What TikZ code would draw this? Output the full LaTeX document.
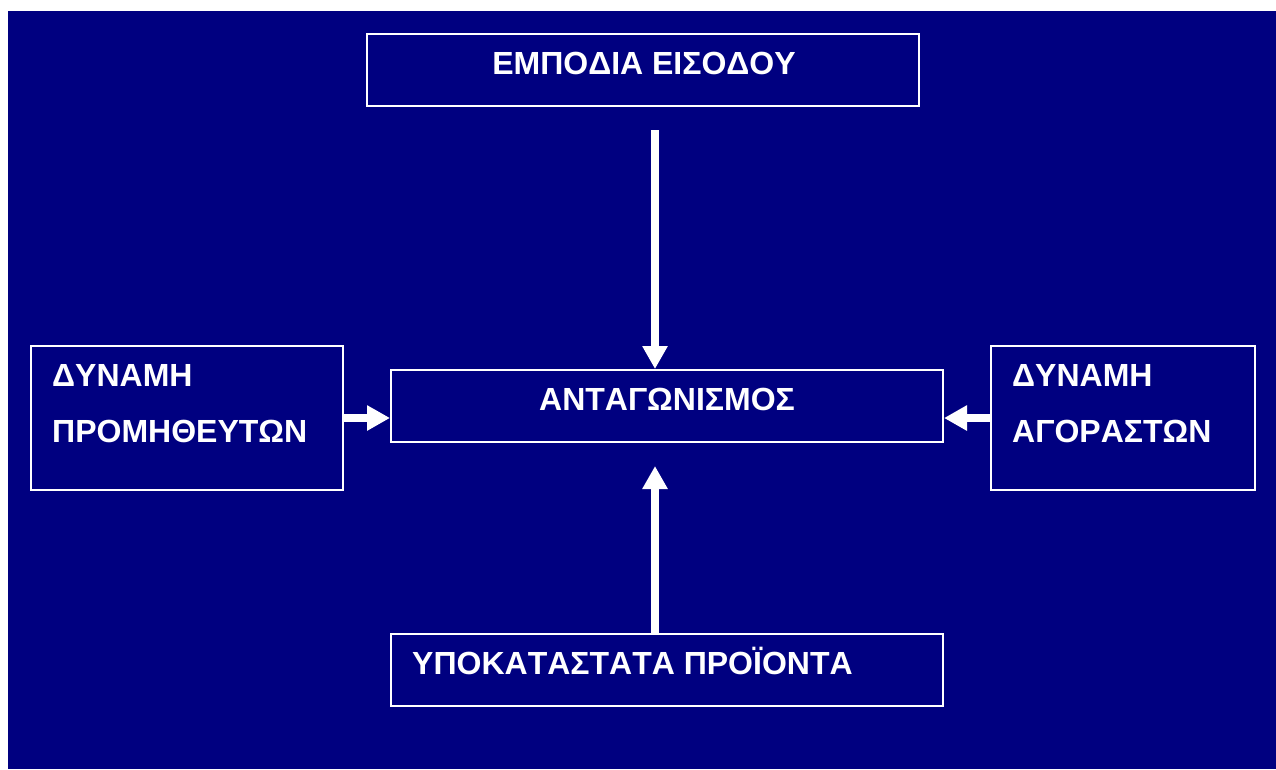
\documentclass[tikz,border=0pt]{standalone}
\usepackage{fontspec}
\setmainfont[Kerning=Off]{Liberation Sans}
\usetikzlibrary{arrows.meta}
\definecolor{navy}{RGB}{0,0,128}
\begin{document}
\begin{tikzpicture}[x=1pt,y=-1pt,
  box/.style={draw=white, line width=2pt, inner sep=0pt, minimum width=#1, minimum height=72pt},
  tall/.style={draw=white, line width=2pt, inner sep=0pt, minimum height=144pt},
  lbl/.style={text=white, inner sep=0pt, font=\bfseries\fontsize{32}{56}\selectfont},
  arr/.style={white, line width=8pt, -{Triangle[width=24pt,length=23pt]}}]
  % page and background
  \useasboundingbox (0,0) rectangle (1276,769);
  \fill[white] (0,0) rectangle (1276,769);
  \fill[navy] (8,11) rectangle (1276,769);

  % boxes
  \node[box=552pt] (top) at (643,70) {};
  \node[box=552pt] (mid) at (667,406) {};
  \node[box=552pt] (bot) at (667,670) {};
  \node[tall, minimum width=312pt] (lft) at (187,418) {};
  \node[tall, minimum width=264pt] (rgt) at (1123,418) {};

  % labels
  \node[lbl, anchor=base] (toptxt) at (644,74) {ΕΜΠΟΔΙΑ ΕΙΣΟΔΟΥ};
  \node[lbl, anchor=base] (midtxt) at (667,410) {ΑΝΤΑΓΩΝΙΣΜΟΣ};
  \node[lbl, anchor=base west] (bottxt) at (412,674) {ΥΠΟΚΑΤΑΣΤΑΤΑ ΠΡΟΪΟΝΤΑ};
  \node[lbl, anchor=base west] (lfta) at (52,386) {ΔΥΝΑΜΗ};
  \node[lbl, anchor=base west] (lftb) at (52,442) {ΠΡΟΜΗΘΕΥΤΩΝ};
  \node[lbl, anchor=base west] (rgta) at (1012,386) {ΔΥΝΑΜΗ};
  \node[lbl, anchor=base west] (rgtb) at (1012,442) {ΑΓΟΡΑΣΤΩΝ};

  % connectors
  \coordinate (topstart) at (655,130);
  \coordinate (bottip) at (655,466);
  \draw[arr] (topstart) -- (topstart |- mid.north);
  \draw[arr] (bot.north -| bottip) -- (bottip);
  \draw[arr] (lft.east) -- (lft.east -| mid.west);
  \draw[arr] (rgt.west) -- (rgt.west -| mid.east);
\end{tikzpicture}
\end{document}
